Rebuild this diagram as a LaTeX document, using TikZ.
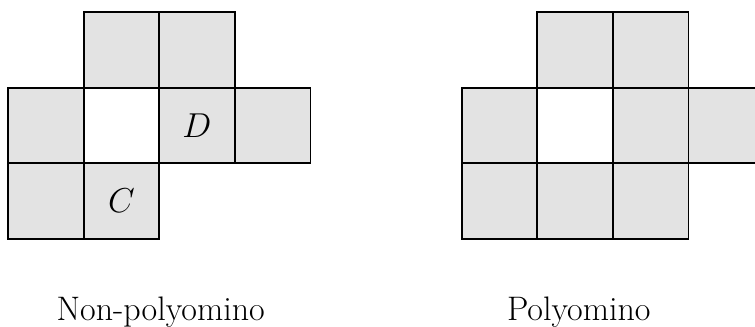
\documentclass[tikz,border=0pt]{standalone}
\usepackage{amsmath,amssymb}
\usepackage{tikz}
\usetikzlibrary{positioning}

\definecolor{cellgray}{HTML}{E3E3E3}

\begin{document}
\begin{tikzpicture}[x=37.8pt,y=37.8pt,
cell/.style={draw,fill=cellgray,line width=0.9pt},
hole/.style={draw,fill=white,line width=0.9pt},
lab/.style={font=\fontsize{17}{20}\selectfont,anchor=base},
tag/.style={font=\fontsize{17}{20}\selectfont}]
\useasboundingbox (-0.106,-1.164) rectangle (9.881,3.161);
\clip (-0.106,-1.164) rectangle (9.881,3.161);
% left: the two halves only touch at a corner
\foreach \x/\y in {1/2,2/2,0/1,2/1,3/1,0/0,1/0}
  \draw[cell] (\x,\y) rectangle ++(1,1);
\draw[hole] (1,1) rectangle ++(1,1);
\node[tag] (d) at (2.5,1.5) {$D$};
\node[tag] (c) at (1.5,0.5) {$C$};
\node[lab] (nonpoly) at (2.02,-1.085) {Non-polyomino};
% right: same shape with the gap filled
\foreach \x/\y in {7/2,8/2,6/1,8/1,9/1,6/0,7/0,8/0}
  \draw[cell] (\x,\y) rectangle ++(1,1);
\draw[hole] (7,1) rectangle ++(1,1);
\node[lab] (poly) at (7.55,-1.085) {Polyomino};
\end{tikzpicture}
\end{document}
